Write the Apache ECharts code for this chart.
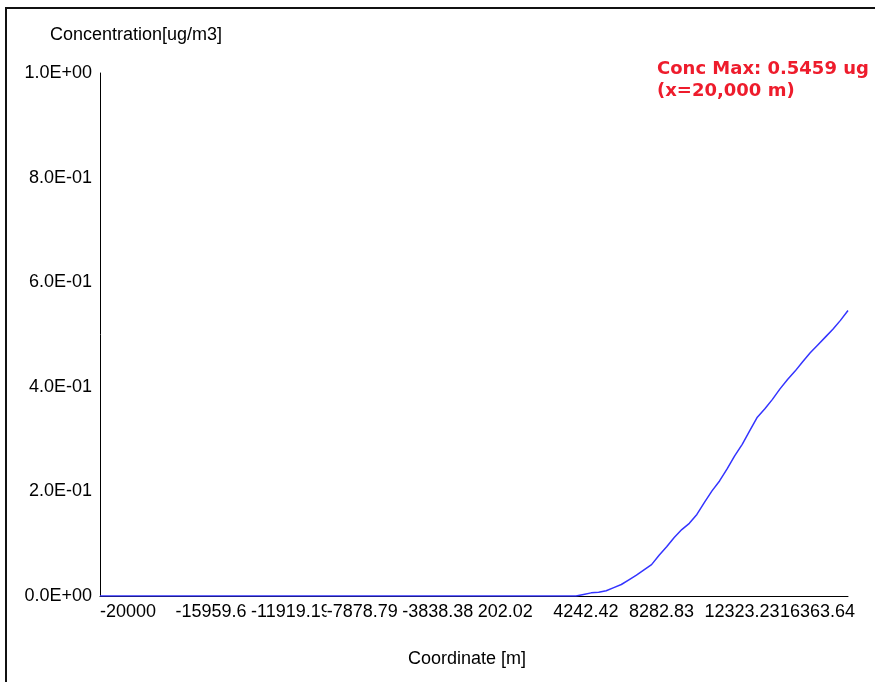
<!DOCTYPE html>
<html>
<head>
<meta charset="utf-8">
<script src="https://cdn.jsdelivr.net/npm/echarts@6/dist/echarts.min.js"></script>
<style>
  html, body { margin: 0; padding: 0; background: #fff; }
  #chart { width: 875px; height: 682px; }
</style>
</head>
<body>
<div id="chart"></div>
<script>
// receptor coordinates along the line [m]
const coords = [
  -20000, -19595.96, -19191.92, -18787.88, -18383.84, -17979.8, -17575.76, -17171.72, -16767.68, -16363.64,
  -15959.6, -15555.56, -15151.52, -14747.47, -14343.43, -13939.39, -13535.35, -13131.31, -12727.27, -12323.23,
  -11919.19, -11515.15, -11111.11, -10707.07, -10303.03, -9898.99, -9494.95, -9090.91, -8686.87, -8282.83,
  -7878.79, -7474.75, -7070.71, -6666.67, -6262.63, -5858.59, -5454.55, -5050.51, -4646.46, -4242.42,
  -3838.38, -3434.34, -3030.3, -2626.26, -2222.22, -1818.18, -1414.14, -1010.1, -606.06, -202.02,
  202.02, 606.06, 1010.1, 1414.14, 1818.18, 2222.22, 2626.26, 3030.3, 3434.34, 3838.38,
  4242.42, 4646.46, 5050.51, 5454.55, 5858.59, 6262.63, 6666.67, 7070.71, 7474.75, 7878.79,
  8282.83, 8686.87, 9090.91, 9494.95, 9898.99, 10303.03, 10707.07, 11111.11, 11515.15, 11919.19,
  12323.23, 12727.27, 13131.31, 13535.35, 13939.39, 14343.43, 14747.47, 15151.52, 15555.56, 15959.6,
  16363.64, 16767.68, 17171.72, 17575.76, 17979.8, 18383.84, 18787.88, 19191.92, 19595.96, 20000
];

// concentration [ug/m3]
const conc = [
  0, 0, 0, 0, 0, 0, 0, 0, 0, 0,
  0, 0, 0, 0, 0, 0, 0, 0, 0, 0,
  0, 0, 0, 0, 0, 0, 0, 0, 0, 0,
  0, 0, 0, 0, 0, 0, 0, 0, 0, 0,
  0, 0, 0, 0, 0, 0, 0, 0, 0, 0,
  0, 0, 0, 0, 0, 0, 0, 0, 0, 0,
  0, 0, 0, 0, 0.003, 0.006, 0.007, 0.010, 0.016, 0.022,
  0.031, 0.040, 0.050, 0.060, 0.078, 0.094, 0.112, 0.127, 0.139, 0.156,
  0.179, 0.201, 0.220, 0.243, 0.268, 0.290, 0.316, 0.342, 0.358, 0.376,
  0.396, 0.414, 0.430, 0.448, 0.465, 0.480, 0.495, 0.510, 0.527, 0.5459
];

const yTicks = [0, 0.2, 0.4, 0.6, 0.8, 1.0];
const yTickLabels = ['0.0E+00', '2.0E-01', '4.0E-01', '6.0E-01', '8.0E-01', '1.0E+00'];

const chart = echarts.init(document.getElementById('chart'), null, { renderer: 'canvas' });

const font = '"Liberation Sans", Arial, sans-serif';

chart.setOption({
  backgroundColor: '#fff',
  animation: false,
  grid: { left: 100, right: 27, top: 73, bottom: 86 },
  xAxis: {
    type: 'category',
    data: coords.map(String),
    boundaryGap: false,
    axisLine: { lineStyle: { color: '#000', width: 1 } },
    axisTick: { show: false },
    axisLabel: {
      interval: 9, align: 'left', margin: 7,
      color: '#000', fontFamily: font, fontSize: 18,
      backgroundColor: '#fff',
    },
    splitLine: { show: false },
  },
  yAxis: {
    type: 'value', min: 0, max: 1, interval: 0.2,
    axisLine: { show: true, lineStyle: { color: '#000', width: 1 } },
    axisTick: { show: false },
    splitLine: { show: false },
    axisLabel: {
      margin: 8, color: '#000', fontFamily: font, fontSize: 18,
      formatter: v => yTickLabels[yTicks.findIndex(t => Math.abs(t - v) < 1e-9)],
    },
  },
  series: [{
    type: 'line',
    data: conc,
    showSymbol: false,
    lineStyle: { color: '#3434ff', width: 1.5 },
    z: 5,
  }],
  graphic: [
    { type: 'line', shape: { x1: 6, y1: 8, x2: 6, y2: 682 }, style: { stroke: '#111', lineWidth: 2 } },
    { type: 'line', shape: { x1: 5, y1: 8, x2: 875, y2: 8 }, style: { stroke: '#111', lineWidth: 2 } },
    { type: 'text', left: 50, top: 26, style: { text: 'Concentration[ug/m3]', fill: '#000', font: '18px ' + font } },
    { type: 'text', left: 408, top: 650, style: { text: 'Coordinate [m]', fill: '#000', font: '18px ' + font } },
    { type: 'text', left: 657, top: 58, style: {
      text: 'Conc Max: 0.5459 ug\n(x=20,000 m)', fill: '#ee1c2c', lineHeight: 22,
      font: 'bold 18px "DejaVu Sans", sans-serif' } },
  ],
});
</script>
</body>
</html>
